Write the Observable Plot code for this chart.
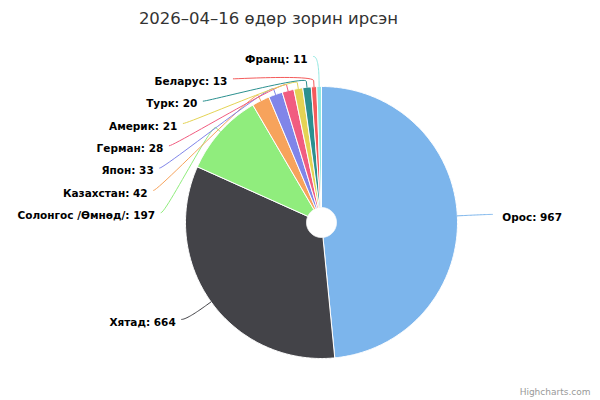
<!DOCTYPE html>
<html>
<head>
<meta charset="utf-8">
<script src="https://cdn.jsdelivr.net/npm/d3@7"></script>
<script src="https://cdn.jsdelivr.net/npm/@observablehq/plot@0.6"></script>
<style>
  html, body { margin: 0; padding: 0; background: #fff; }
</style>
</head>
<body>
<div id="chart"></div>
<script>
// ---- data ----
const titleText = "2026–04–16 өдөр зорин ирсэн";
const creditText = "Highcharts.com";
const names = ["Орос", "Хятад", "Солонгос /Өмнөд/", "Казахстан", "Япон", "Герман", "Америк", "Турк", "Беларус", "Франц"];
const values = [967, 664, 197, 42, 33, 28, 21, 20, 13, 11];
const colors = ["#7cb5ec", "#434348", "#90ed7d", "#f7a35c", "#8085e9", "#f15c80", "#e4d354", "#2b908f", "#f45b5b", "#91e8e1"];

// ---- layout constants ----
const W = 600, H = 400;
const cx = 321, cy = 222, R = 136, Ri = 15;
const labelDistance = 30, padding = 5, labelStep = 22.3, minLeft = 17;
const labelFontSize = 10.5;
const fontFamily = "'DejaVu Sans', Verdana, sans-serif";

const total = d3.sum(values);
let cum = 0;
const slices = names.map((name, i) => {
  const a0 = cum / total * 2 * Math.PI;
  cum += values[i];
  const a1 = cum / total * 2 * Math.PI;
  return {name, value: values[i], color: colors[i], a0, a1, mid: (a0 + a1) / 2};
});
const px = (a, r) => cx + r * Math.sin(a);
const py = (a, r) => cy - r * Math.cos(a);

// slice polygons
const slicePts = [];
for (const s of slices) {
  const n = Math.max(2, Math.ceil((s.a1 - s.a0) / 0.01));
  const pts = [];
  for (let k = 0; k <= n; k++) { const a = s.a0 + (s.a1 - s.a0) * k / n; pts.push([px(a, R), py(a, R)]); }
  for (let k = n; k >= 0; k--) { const a = s.a0 + (s.a1 - s.a0) * k / n; pts.push([px(a, Ri), py(a, Ri)]); }
  pts.push(pts[0]);
  for (const [x, y] of pts) slicePts.push({name: s.name, color: s.color, x, y});
}

// text measuring
const ctx = document.createElement("canvas").getContext("2d");
ctx.font = `bold ${labelFontSize}px ${fontFamily}`;
const labelText = d => `${d.name}: ${d.value}`;

// label layout (Highcharts-like)
const RL = R + labelDistance;
for (const s of slices) {
  s.left = s.mid > Math.PI;
  s.natY = py(s.mid, RL);
}
function distribute(list) {
  list.sort((a, b) => a.natY - b.natY);
  let prev = -Infinity;
  for (const s of list) { s.ly = Math.max(s.natY, prev + labelStep); prev = s.ly; }
}
distribute(slices.filter(s => s.left));
distribute(slices.filter(s => !s.left));
for (const s of slices) {
  const ang = Math.asin(Math.max(-1, Math.min(1, (s.ly - cy) / RL)));
  s.lx = cx + (s.left ? -1 : 1) * (Math.cos(ang) * RL + padding);
  s.tx = s.left ? s.lx - 6 : s.lx + 10;
  if (s.left) {
    const w = ctx.measureText(labelText(s)).width;
    if (s.tx - w < minLeft) { s.tx = minLeft + w; s.lx = Math.max(s.lx, s.tx + 6); }
  }
  s.ty = s.ly + 3;
}

// connectors
const connPts = [];
const rb = R + labelDistance / 5;
for (const s of slices) {
  const p0 = [s.lx, s.ly];
  const c1 = [s.lx + (s.left ? 5 : -5), s.ly];
  const b = [px(s.mid, rb), py(s.mid, rb)];
  const t = [px(s.mid, R), py(s.mid, R)];
  const c2 = [2 * b[0] - t[0], 2 * b[1] - t[1]];
  const n = 24;
  for (let k = 0; k <= n; k++) {
    const u = k / n, v = 1 - u;
    const x = v*v*v*p0[0] + 3*v*v*u*c1[0] + 3*v*u*u*c2[0] + u*u*u*b[0];
    const y = v*v*v*p0[1] + 3*v*v*u*c1[1] + 3*v*u*u*c2[1] + u*u*u*b[1];
    connPts.push({name: s.name, color: s.color, x, y});
  }
  connPts.push({name: s.name, color: s.color, x: t[0], y: t[1]});
}

const labelStyle = {fontSize: labelFontSize, fontWeight: "bold", fill: "#000", stroke: "#fff", strokeWidth: 2, lineAnchor: "middle"};

const chart = Plot.plot({
  width: W, height: H,
  margin: 0,
  x: {type: "identity", axis: null},
  y: {type: "identity", axis: null},
  color: {type: "identity", legend: false},
  style: {fontFamily, background: "#fff"},
  marks: [
    Plot.line(slicePts, {x: "x", y: "y", z: "name", fill: "color", stroke: "#fff", strokeWidth: 1, curve: "linear"}),
    Plot.line(connPts, {x: "x", y: "y", z: "name", stroke: "color", strokeWidth: 1, curve: "linear"}),
    Plot.text(slices.filter(s => s.left), {x: "tx", y: "ty", text: labelText, textAnchor: "end", ...labelStyle}),
    Plot.text(slices.filter(s => !s.left), {x: "tx", y: "ty", text: labelText, textAnchor: "start", ...labelStyle}),
    Plot.text([titleText], {frameAnchor: "top", dx: -32, dy: 18, fontSize: 16.5, fill: "#333333", lineAnchor: "middle"}),
    Plot.text([creditText], {frameAnchor: "bottom-right", dx: -10, dy: -8, fontSize: 9, fill: "#999999", lineAnchor: "middle"})
  ]
});
document.getElementById("chart").appendChild(chart);
</script>
</body>
</html>
